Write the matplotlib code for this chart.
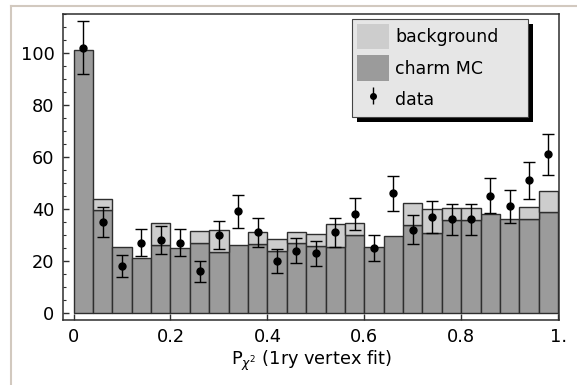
import numpy as np
import matplotlib
matplotlib.use("Agg")
import matplotlib.pyplot as plt
from matplotlib.patches import Rectangle, Patch
from matplotlib.lines import Line2D
from matplotlib.ticker import MultipleLocator, FixedLocator

plt.rcParams['font.family'] = ['DejaVu Sans']
plt.rcParams['mathtext.fontset'] = 'dejavusans'

# bin edges (25 bins of width 0.04)
bin_edges = [0.00, 0.04, 0.08, 0.12, 0.16, 0.20, 0.24, 0.28, 0.32, 0.36,
             0.40, 0.44, 0.48, 0.52, 0.56, 0.60, 0.64, 0.68, 0.72, 0.76,
             0.80, 0.84, 0.88, 0.92, 0.96, 1.00]

charm_mc = [101, 39.6, 25.4, 21.2, 26.0, 25.0, 26.8, 23.3, 26.0, 26.5,
            24.0, 26.8, 25.9, 25.4, 29.9, 25.4, 29.4, 33.8, 30.9, 35.9,
            35.9, 38.0, 36.0, 36.3, 38.7]
background = [0.0, 4.2, 0.0, 0.0, 8.4, 0.0, 4.7, 8.6, 0.0, 4.5,
              4.5, 4.2, 4.5, 8.6, 4.5, 0.0, 0.0, 8.5, 9.0, 4.4,
              4.4, 0.0, 0.0, 4.5, 8.3]

data_x = [0.02, 0.06, 0.10, 0.14, 0.18, 0.22, 0.26, 0.30, 0.34, 0.38,
          0.42, 0.46, 0.50, 0.54, 0.58, 0.62, 0.66, 0.70, 0.74, 0.78,
          0.82, 0.86, 0.90, 0.94, 0.98]
data_y = [102, 35, 18, 27, 28, 27, 16, 30, 39, 31,
          20, 24, 23, 31, 38, 25, 46, 32, 37, 36,
          36, 45, 41, 51, 61]
data_err = [10.1, 5.9, 4.2, 5.2, 5.3, 5.2, 4.0, 5.5, 6.2, 5.6,
            4.5, 4.9, 4.8, 5.6, 6.2, 5.0, 6.8, 5.6, 6.1, 6.0,
            6.0, 6.7, 6.4, 7.1, 7.8]

x_ticks = [0, 0.2, 0.4, 0.6, 0.8, 1.0]
x_ticklabels = ['0', '0.2', '0.4', '0.6', '0.8', '1.']
y_ticks = [0, 20, 40, 60, 80, 100]

C_CHARM = '#9b9b9b'
C_BG = '#cdcdcd'
C_EDGE = '#2e2e2e'

fig = plt.figure(figsize=(5.77, 3.85), dpi=100)
ax = fig.add_axes([0.109, 0.169, 0.860, 0.795])

edges = np.array(bin_edges)
lefts = edges[:-1]
widths = np.diff(edges)
ch = np.array(charm_mc)
bg = np.array(background)

ax.bar(lefts, ch, width=widths, align='edge', color=C_CHARM,
       edgecolor=C_EDGE, linewidth=1.0, zorder=2)
mask = bg > 0
ax.bar(lefts[mask], bg[mask], width=widths[mask], bottom=ch[mask], align='edge',
       color=C_BG, edgecolor=C_EDGE, linewidth=1.0, zorder=2)

ax.errorbar(data_x, data_y, yerr=data_err, fmt='o', color='black',
            markersize=5, elinewidth=1.0, capsize=4.5, capthick=1.0, zorder=4)

ax.set_xlim(-0.022, 1.002)
ax.set_ylim(-2.7, 115)
ax.xaxis.set_major_locator(FixedLocator(x_ticks))
ax.set_xticklabels(x_ticklabels)
ax.yaxis.set_major_locator(FixedLocator(y_ticks))
ax.yaxis.set_minor_locator(MultipleLocator(5))
ax.tick_params(axis='both', which='major', direction='in', length=4,
               width=1.0, color=C_EDGE, labelsize=12.8, pad=6)
ax.tick_params(axis='y', which='minor', direction='in', length=2.5, width=0.8,
               color=C_EDGE)
for s in ax.spines.values():
    s.set_color(C_EDGE)
    s.set_linewidth(1.1)

ax.set_xlabel(r'P$_{\chi^2}$ (1ry vertex fit)', fontsize=12.8, labelpad=2)

handles = [Patch(facecolor=C_BG, edgecolor='none'),
           Patch(facecolor=C_CHARM, edgecolor='none'),
           ax.errorbar([], [], yerr=[], fmt='o', color='black', markersize=4,
                       elinewidth=1.0, capsize=4, capthick=1.0)]
leg = fig.legend(handles, ['background', 'charm MC', 'data'],
                 loc='upper left',
                 bbox_to_anchor=(352 / 577, 1 - 137 / 385, 176 / 577, 118 / 385),
                 mode='expand',
                 fontsize=12.5, frameon=True, fancybox=False,
                 handlelength=1.85, handleheight=1.85, handletextpad=0.35,
                 borderpad=0.3, labelspacing=0.35, borderaxespad=0)
leg.get_frame().set_facecolor('#e6e6e6')
leg.get_frame().set_edgecolor('#444444')
leg.get_frame().set_linewidth(0.8)
leg.get_frame().set_alpha(1)
leg.set_zorder(10)

fig.canvas.draw()
bb = leg.get_window_extent()
shadow = Rectangle((bb.x0 + 5, bb.y0 - 5), bb.width, bb.height,
                   transform=None, facecolor='black', edgecolor='none', zorder=9)
fig.patches.append(shadow)

# screenshot frame lines
fig.add_artist(Line2D([10.5 / 577, 10.5 / 577], [0, 1 - 6 / 385],
                      transform=fig.transFigure, color='#d2c9bf', linewidth=1.5))
fig.add_artist(Line2D([10.5 / 577, 1], [1 - 6 / 385, 1 - 6 / 385],
                      transform=fig.transFigure, color='#d2c9bf', linewidth=1.5))

fig.savefig('out.png', dpi=100)
